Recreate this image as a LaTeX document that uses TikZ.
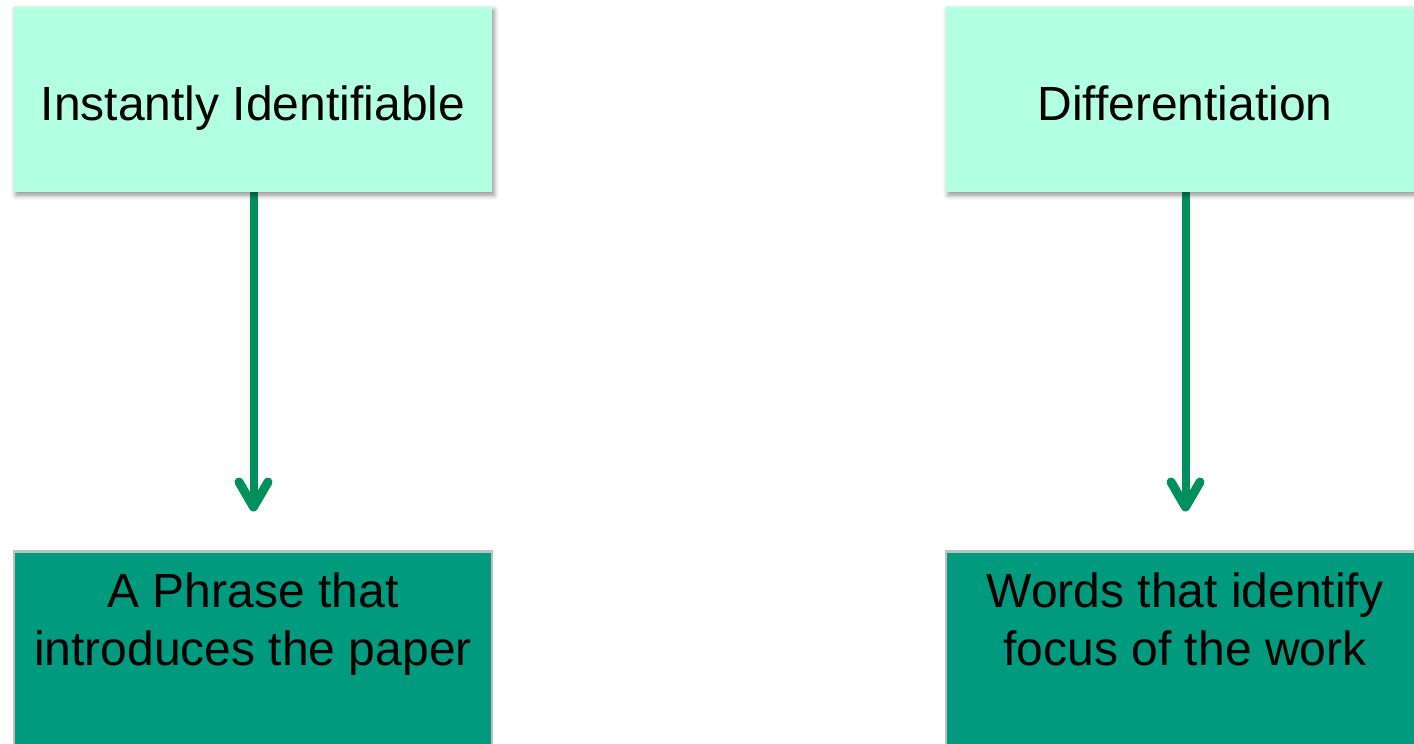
\documentclass[tikz,border=0pt]{standalone}
\usepackage{fontspec}
\setmainfont{Liberation Sans}
\usetikzlibrary{shadows.blur}
\definecolor{mint}{HTML}{B2FFE2}
\definecolor{teal}{HTML}{009B7F}
\definecolor{arrowgreen}{HTML}{00905E}
\definecolor{rim}{HTML}{C0C0C0}
\tikzset{
  topbox/.style={rectangle, fill=mint, minimum width=478pt, minimum height=185pt,
    inner sep=0pt, blur shadow={shadow xshift=2pt, shadow yshift=-3pt,
    shadow blur radius=5pt, shadow opacity=45}},
  lowbox/.style={rectangle, fill=teal, draw=rim, line width=2.5pt,
    minimum width=478pt, minimum height=240pt, inner sep=0pt},
  label/.style={font=\fontsize{48pt}{57.5pt}\selectfont, align=center, inner sep=0pt},
  link/.style={draw=arrowgreen, line width=8pt},
  barb/.style={draw=arrowgreen, line width=9pt, line cap=round, line join=round}
}
\begin{document}
\begin{tikzpicture}[x=1pt, y=-1pt]
  \useasboundingbox (0,0) rectangle (1414,744);

  % arrows, drawn first so they sit under the boxes
  \coordinate (tipL) at (253.5,507);
  \coordinate (tipR) at (1185.5,507);
  \coordinate (topL) at (253.5,150);
  \coordinate (topR) at (1185.5,150);
  \draw[link] (topL) -- (tipL);
  \draw[link] (topR) -- (tipR);
  \draw[barb] (tipL) ++(-14.5,-25) -- (tipL) -- ++(14.5,-25);
  \draw[barb] (tipR) ++(-14.5,-25) -- (tipR) -- ++(14.5,-25);

  % upper boxes
  \node[topbox] (boxL) at (253,99.5) {};
  \node[topbox] (boxR) at (1185,99.5) {};
  \node[label, anchor=base] (txtL) at (253,120.5) {Instantly Identifiable};
  \node[label, anchor=base] (txtR) at (1185,120.5) {Differentiation};

  % lower boxes
  \node[lowbox, anchor=north] (lowL) at (253,550) {};
  \node[lowbox, anchor=north] (lowR) at (1185,550) {};
  \node[label, anchor=north] (ltxtL) at (253,573) {A Phrase that\\introduces the paper};
  \node[label, anchor=north] (ltxtR) at (1185,573) {Words that identify\\focus of the work};
\end{tikzpicture}
\end{document}
